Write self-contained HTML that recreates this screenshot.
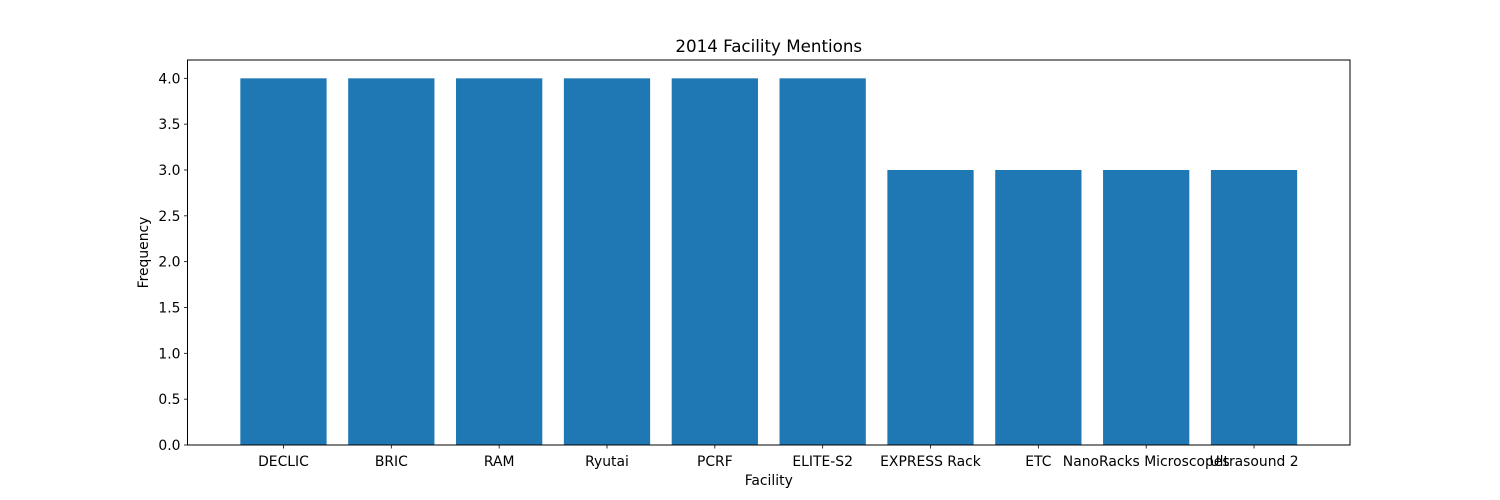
<!DOCTYPE html>
<html><head><meta charset="utf-8"><style>
body{margin:0;background:#fff;}
svg{display:block;font-family:"DejaVu Sans","Liberation Sans",sans-serif;}
</style></head><body>
<svg id="chart" width="1500" height="500"></svg>
<script>
const categories=["DECLIC","BRIC","RAM","Ryutai","PCRF","ELITE-S2","EXPRESS Rack","ETC","NanoRacks Microscopes","Ultrasound 2"];
const values=[4,4,4,4,4,4,3,3,3,3];
const yTicks=[0,0.5,1,1.5,2,2.5,3,3.5,4];
const yTickLabels=["0.0","0.5","1.0","1.5","2.0","2.5","3.0","3.5","4.0"];
const NS="http://www.w3.org/2000/svg";
const svg=document.getElementById('chart');
const L=187.5,R=1350,T=60,B=445;
const yMax=Math.max(...values)*1.05;
const xLo=-0.4-(categories.length-1+0.8)*0.05, xHi=categories.length-1+0.4+(categories.length-1+0.8)*0.05;
function x(v){return L+(v-xLo)/(xHi-xLo)*(R-L);}
function y(v){return B-v/yMax*(B-T);}
function el(t,a,txt){const e=document.createElementNS(NS,t);for(const k in a)e.setAttribute(k,a[k]);if(txt!==undefined)e.textContent=txt;svg.appendChild(e);return e;}
categories.forEach((c,i)=>{
 const b=el('rect',{x:x(i-0.4),y:y(values[i]),width:x(i+0.4)-x(i-0.4),height:B-y(values[i]),fill:'#1f77b4'});
 
 
 const tk=el('line',{x1:x(i),x2:x(i),y1:B,y2:B+3.5,stroke:'#000','stroke-width':0.8});
 
 
 const tl=el('text',{x:x(i),y:B+21,'text-anchor':'middle','font-size':13.9},c);
 
 
});
yTicks.forEach((v,i)=>{
 const tk=el('line',{x1:L-3.5,x2:L,y1:y(v),y2:y(v),stroke:'#000','stroke-width':0.8});
 
 
 const tl=el('text',{x:L-7,y:y(v)+5,'text-anchor':'end','font-size':13.9},yTickLabels[i]);
 
 
});
const fr=el('rect',{x:L,y:T,width:R-L,height:B-T,fill:'none',stroke:'#000','stroke-width':1});


const t=el('text',{x:(L+R)/2,y:T-8,'text-anchor':'middle','font-size':16.7},'2014 Facility Mentions');


const xt=el('text',{x:(L+R)/2,y:485,'text-anchor':'middle','font-size':13.9},'Facility');


const yt=el('text',{x:148,y:(T+B)/2,'text-anchor':'middle','font-size':13.9,transform:'rotate(-90 148 '+((T+B)/2)+')'},'Frequency');


</script>
</body></html>
